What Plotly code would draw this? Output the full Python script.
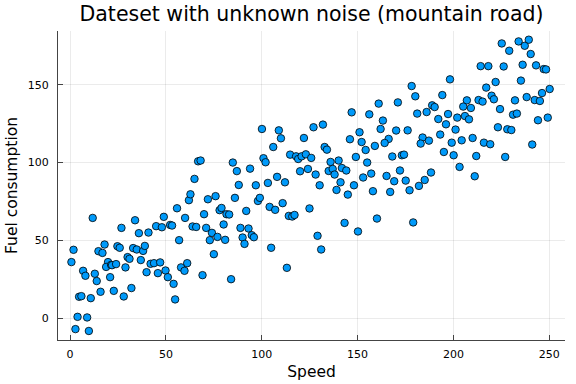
import plotly.graph_objects as go

# Data (Speed, Fuel consumption)
speed = [
    11.8, 33.9, 26.8, 48.9, 55.8, 35.9, 40.9, 44.9, 47.9, 52.2, 53.2, 60.0, 56.9, 1.8, 0.7,
    18.0, 14.8, 16.9, 24.7, 25.9, 32.9, 34.8, 38.1, 39.0, 30.0, 31.0, 36.9, 19.8, 18.8, 21.4,
    21.9, 24.0, 28.9, 42.0, 43.8, 47.0, 39.9, 45.8, 49.8, 51.0, 54.0, 54.8, 57.9, 59.7, 61.1,
    6.8, 8.0, 12.9, 13.9, 20.9, 4.7, 5.9, 10.8, 15.9, 22.8, 28.0, 32.0, 3.9, 8.9, 2.8, 9.8,
    62.0, 62.8, 71.9, 75.9, 86.0, 98.0, 99.0, 104.1, 107.0, 110.9, 114.1, 115.9, 117.1, 124.9,
    69.9, 78.0, 79.0, 81.6, 83.0, 91.9, 63.9, 65.8, 71.0, 74.0, 72.9, 76.9, 80.9, 80.1, 88.9,
    93.1, 90.0, 91.0, 94.8, 95.9, 104.9, 75.0, 69.1, 84.0, 113.1,
    100.1, 108.9, 110.0, 106.0, 122.0, 114.8, 117.9, 119.0, 120.8, 123.0, 66.8, 68.1, 84.9,
    100.9, 102.0, 64.9, 87.0, 93.9, 108.0, 120.0, 124.1, 88.0, 96.9, 103.2, 112.1,
    139.0, 144.9, 158.0, 167.0, 177.1, 143.2, 150.2, 160.1, 179.0, 129.1, 131.0,
    178.2, 180.1, 161.0, 171.0, 146.9, 156.1, 181.1, 186.0, 188.9, 190.2, 163.2, 162.0, 170.1,
    176.1, 127.0, 131.9, 151.0, 146.0, 152.1, 166.2, 164.1, 159.0, 154.2, 183.9, 182.9, 187.2,
    132.8, 134.0, 125.8, 149.1, 168.1, 173.1, 174.2, 135.9, 140.1, 155.0, 128.1, 134.9, 137.0,
    138.0, 141.8, 144.1, 130.2, 141.1, 148.1, 152.9, 157.1, 165.1, 169.1, 172.1, 175.1, 182.0,
    185.0, 188.3,
    225.2, 229.1, 234.0, 237.2, 239.3, 240.3, 214.2, 218.2, 226.2, 236.1, 243.1, 247.1, 248.3,
    198.2, 222.0, 235.2, 217.1, 194.2, 219.9, 221.1, 207.0, 213.1, 215.2, 232.1, 238.2, 242.4,
    245.1, 246.2, 250.2, 205.1, 209.1, 224.3, 197.2, 192.1, 202.0, 206.0, 208.1, 231.1, 233.1,
    244.1, 249.2, 196.1, 201.1, 223.2, 228.1, 230.2, 193.1, 204.3, 199.1, 210.0, 215.9, 219.2,
    241.1, 195.0, 200.1, 211.9, 227.0, 203.2, 211.1,
]
fuel = [
    64.4, 62.9, 58.0, 65.1, 70.6, 54.6, 55.0, 59.1, 58.4, 59.9, 59.5, 64.4, 50.1, 43.9, 36.0,
    47.3, 43.0, 41.9, 46.2, 45.2, 45.0, 44.1, 43.2, 46.4, 39.2, 38.1, 37.3, 36.0, 32.9, 34.2,
    34.0, 34.7, 32.6, 34.9, 35.3, 35.8, 29.5, 28.9, 30.6, 26.3, 22.0, 12.0, 32.6, 30.4, 35.3,
    30.4, 27.2, 28.5, 23.8, 26.3, 13.7, 14.1, 12.8, 16.9, 17.5, 13.9, 19.3, 0.8, 0.4, -7.1, -8.3,
    75.8, 79.6, 76.4, 78.4, 77.3, 75.3, 77.3, 71.5, 69.6, 73.9, 65.7, 65.3, 66.3, 70.5,
    66.8, 69.4, 70.8, 66.8, 66.6, 68.9, 58.9, 58.6, 58.0, 54.8, 50.1, 52.2, 50.3, 60.2, 58.0,
    57.6, 51.8, 47.7, 53.3, 52.0, 45.2, 41.1, 27.6, 25.0, 32.3,
    121.6, 120.7, 115.6, 110.0, 115.8, 105.1, 104.0, 102.3, 104.0, 105.3, 100.8, 101.3, 100.0,
    102.8, 100.2, 89.5, 94.5, 96.1, 90.8, 94.4, 95.9, 85.6, 85.4, 86.9, 87.3,
    82.4, 79.4, 81.6, 81.1, 82.2, 61.2, 55.7, 64.0, 61.5, 52.9, 44.1,
    149.2, 142.6, 137.9, 138.7, 132.3, 131.0, 131.5, 132.5, 136.8, 135.7, 127.0, 121.6, 120.6,
    120.7, 122.7, 124.4, 119.5, 115.0, 113.2, 115.2, 112.6, 110.7, 108.1, 116.1, 112.2, 114.1,
    110.0, 108.3, 103.0, 103.6, 103.9, 104.7, 105.1, 100.4, 101.3, 100.0, 92.3, 94.6, 95.9,
    92.3, 96.5, 94.9, 85.4, 87.3, 85.4, 90.4, 92.9, 91.4, 88.0, 94.9, 88.4, 85.0,
    88.8, 93.6,
    176.6, 171.9, 177.9, 175.1, 179.0, 169.8, 162.0, 162.0, 161.8, 162.9, 162.5, 160.1, 159.9,
    153.5, 151.8, 152.7, 148.2, 143.4, 143.0, 140.7, 140.0, 140.2, 139.2, 140.0, 142.1, 140.2,
    139.6, 144.7, 147.3, 136.0, 135.1, 134.4, 131.2, 128.0, 128.9, 129.9, 127.8, 130.8, 131.5,
    127.2, 128.9, 124.6, 121.2, 122.7, 121.4, 120.9, 118.0, 114.3, 112.8, 115.8, 112.8, 111.8,
    111.6, 106.8, 104.7, 104.2, 103.6, 97.2, 91.2,
]

x_ticks = [0, 50, 100, 150, 200, 250]
y_ticks = [0, 50, 100, 150]

fig = go.Figure()
fig.add_trace(go.Scatter(
    x=speed, y=fuel, mode="markers",
    marker=dict(color="#009AFA", size=7.5, line=dict(color="black", width=0.8)),
    showlegend=False, hoverinfo="skip",
))

font = "DejaVu Sans"
fig.update_layout(
    width=576, height=384,
    margin=dict(l=58, r=11, t=31, b=44, autoexpand=False),
    paper_bgcolor="white", plot_bgcolor="white",
    font=dict(family=font, color="black"),
    title=dict(text="Dateset with unknown noise (mountain road)", xref="paper", x=0.5,
               xanchor="center", yref="container", y=0.963, yanchor="middle",
               font=dict(size=20.5, family=font)),
    xaxis=dict(
        range=[-6.3, 258.2], tickvals=x_ticks, ticks="inside", ticklen=5, tickcolor="#444",
        showline=True, linecolor="#444", linewidth=1, mirror=False, zeroline=False,
        showgrid=True, gridcolor="rgba(0,0,0,0.08)", gridwidth=0.7, automargin=False,
        ticklabelstandoff=4,
        tickfont=dict(size=11), title=dict(text="Speed", font=dict(size=15.5), standoff=5),
    ),
    yaxis=dict(
        range=[-14.1, 184.6], tickvals=y_ticks, ticks="inside", ticklen=5, tickcolor="#444",
        showline=True, linecolor="#444", linewidth=1, mirror=False, zeroline=False,
        showgrid=True, gridcolor="rgba(0,0,0,0.08)", gridwidth=0.7, automargin=False,
        ticklabelstandoff=6,
        tickfont=dict(size=11), title=dict(text="Fuel consumption", font=dict(size=15.5), standoff=6),
    ),
)

# remove the page's default 8px body margin so the figure sits at the window origin
fig.write_html("out.html", config={"displayModeBar": False},
               post_script="document.body.style.margin='0';")
